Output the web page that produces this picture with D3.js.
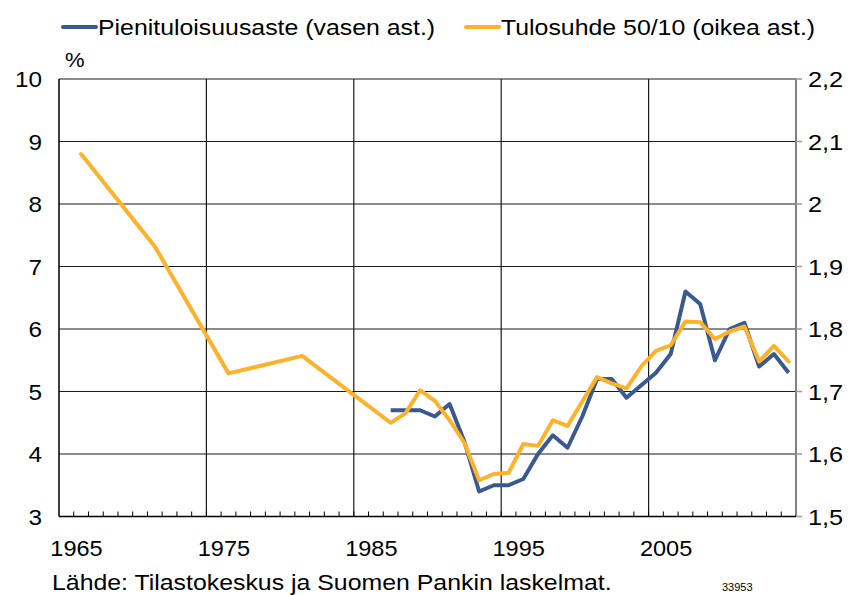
<!DOCTYPE html>
<html>
<head>
<meta charset="utf-8">
<script src="https://cdn.jsdelivr.net/npm/d3@7"></script>
<style>
  body { margin: 0; background: #fff; }
  text { font-family: "Liberation Sans", Arial, sans-serif; fill: #000; }
</style>
</head>
<body>
<div id="chart"></div>
<script>
// years on the category axis
var years = d3.range(1965, 2015);

// Pienituloisuusaste, % (left axis)
var lowYears = d3.range(1987, 2015);
var lowValues = [4.7, 4.7, 4.7, 4.6, 4.8, 4.2, 3.4, 3.5, 3.5, 3.6, 4.0, 4.3, 4.1, 4.6,
  5.2, 5.2, 4.9, 5.1, 5.3, 5.6, 6.6, 6.4, 5.5, 6.0, 6.1, 5.4, 5.6, 5.3];

// Tulosuhde 50/10 (right axis)
var ratioYears = [1966, 1971, 1976, 1981].concat(d3.range(1987, 2015));
var ratioValues = [2.08, 1.932, 1.729, 1.757,
  1.650, 1.665, 1.702, 1.685, 1.654, 1.618, 1.558, 1.568, 1.570, 1.616, 1.613, 1.654, 1.645, 1.684,
  1.723, 1.713, 1.705, 1.740, 1.765, 1.774, 1.812, 1.811, 1.784, 1.796, 1.804, 1.748, 1.773, 1.748];

var leftTicks = [3, 4, 5, 6, 7, 8, 9, 10];
var rightTicks = [1.5, 1.6, 1.7, 1.8, 1.9, 2.0, 2.1, 2.2];
var xLabels = [1965, 1975, 1985, 1995, 2005];

var W = 853, H = 595;
var pLeft = 59, pRight = 796, pTop = 79, pBottom = 516.5;
var blue = '#3a5a8f', orange = '#fdb22a';
var stretch = 1.13;   // reference text is a little wider than Arial

var svg = d3.select('#chart').append('svg').attr('width', W).attr('height', H);

var x = d3.scaleBand().domain(years).range([pLeft, pRight]);
var yL = d3.scaleLinear().domain([3, 10]).range([pBottom, pTop]);
var yR = d3.scaleLinear().domain([1.5, 2.2]).range([pBottom, pTop]);

function place(tx, ty, sx) {
  return 'translate(' + tx + ',' + ty + ') scale(' + (sx || stretch) + ',1)';
}

// horizontal gridlines
svg.append('g').selectAll('line').data(leftTicks.slice(1))
  .enter().append('line')
  .attr('x1', pLeft).attr('x2', pRight)
  .attr('y1', function(d){ return yL(d); }).attr('y2', function(d){ return yL(d); })
  .attr('stroke', '#1a1a1a').attr('stroke-width', 1.2);

// vertical gridlines every 10 years
svg.append('g').selectAll('line').data([1975, 1985, 1995, 2005])
  .enter().append('line')
  .attr('x1', function(d){ return x(d); }).attr('x2', function(d){ return x(d); })
  .attr('y1', pTop).attr('y2', pBottom)
  .attr('stroke', '#1a1a1a').attr('stroke-width', 1.2);

// yearly minor ticks on the bottom axis
svg.append('g').selectAll('line').data(years.slice(1))
  .enter().append('line')
  .attr('x1', function(d){ return x(d); }).attr('x2', function(d){ return x(d); })
  .attr('y1', pBottom).attr('y2', pBottom - 5)
  .attr('stroke', '#000').attr('stroke-width', 1);

// right axis (grey) with outward ticks
svg.append('line').attr('x1', pRight).attr('x2', pRight).attr('y1', pTop).attr('y2', pBottom)
  .attr('stroke', '#808080').attr('stroke-width', 2);
svg.append('g').selectAll('line').data(rightTicks)
  .enter().append('line')
  .attr('x1', pRight).attr('x2', pRight + 6)
  .attr('y1', function(d){ return yR(d); }).attr('y2', function(d){ return yR(d); })
  .attr('stroke', '#9a9a9a').attr('stroke-width', 1.5);

// left and bottom axis lines
svg.append('line').attr('x1', pLeft).attr('x2', pLeft).attr('y1', pTop).attr('y2', pBottom)
  .attr('stroke', '#000').attr('stroke-width', 1.5);
svg.append('line').attr('x1', pLeft).attr('x2', pRight).attr('y1', pBottom).attr('y2', pBottom)
  .attr('stroke', '#000').attr('stroke-width', 1.5);

// tick labels
svg.append('g').selectAll('text').data(leftTicks)
  .enter().append('text')
  .attr('transform', function(d){ return place(42, yL(d) + 8, 1.08); })
  .attr('text-anchor', 'end')
  .style('font-size', '22.5px')
  .text(function(d){ return d; });

svg.append('g').selectAll('text').data(rightTicks)
  .enter().append('text')
  .attr('transform', function(d){ return place(808, yR(d) + 8, 1.15); })
  .style('font-size', '22px')
  .text(function(d){ return String(+d.toFixed(1)).replace('.', ','); });

svg.append('g').selectAll('text').data(xLabels)
  .enter().append('text')
  .attr('transform', function(d){ return place(x(d) + 17.5, 556, 1.07); })
  .attr('text-anchor', 'middle')
  .style('font-size', '22px')
  .text(function(d){ return d; });

svg.append('text').attr('transform', place(65, 67, 1.1)).style('font-size', '20px').text('%');

// lines
var lineL = d3.line()
  .x(function(d){ return x(d[0]) + x.bandwidth() / 2; })
  .y(function(d){ return yL(d[1]); });
var lineR = d3.line()
  .x(function(d){ return x(d[0]) + x.bandwidth() / 2; })
  .y(function(d){ return yR(d[1]); });

svg.append('path').datum(d3.zip(lowYears, lowValues))
  .attr('d', lineL).attr('fill', 'none')
  .attr('stroke', blue).attr('stroke-width', 4).attr('stroke-linejoin', 'round');

svg.append('path').datum(d3.zip(ratioYears, ratioValues))
  .attr('d', lineR).attr('fill', 'none')
  .attr('stroke', orange).attr('stroke-width', 4).attr('stroke-linejoin', 'round')
  .attr('stroke-linecap', 'round');

// legend
var legendItems = [
  ['Pienituloisuusaste (vasen ast.)', blue, 63],
  ['Tulosuhde 50/10 (oikea ast.)', orange, 466]
];
var legend = svg.append('g').selectAll('g').data(legendItems)
  .enter().append('g')
  .attr('transform', function(d){ return 'translate(' + d[2] + ',27)'; });
legend.append('line').attr('x1', 0).attr('x2', 33).attr('y1', 0).attr('y2', 0)
  .attr('stroke', function(d){ return d[1]; }).attr('stroke-width', 4)
  .attr('stroke-linecap', 'round');
legend.append('text').attr('transform', place(35, 8))
  .style('font-size', '22px')
  .text(function(d){ return d[0]; });

// source and chart number
svg.append('text').attr('transform', place(52, 590)).style('font-size', '22px')
  .text('Lähde: Tilastokeskus ja Suomen Pankin laskelmat.');
svg.append('text').attr('transform', place(722, 591, 1)).style('font-size', '11px')
  .text('33953');
</script>
</body>
</html>
